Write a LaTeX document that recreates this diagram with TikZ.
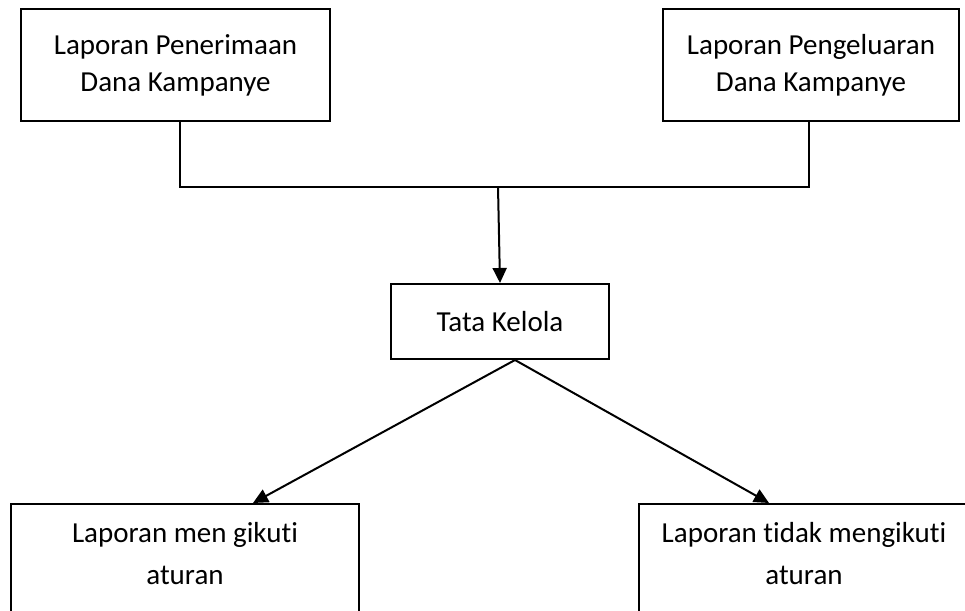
\documentclass[tikz,border=0pt]{standalone}
\usepackage{fontspec}
\setmainfont{Carlito}[Ligatures={NoCommon}]
\usetikzlibrary{arrows.meta}
\begin{document}
\begin{tikzpicture}[x=1pt,y=-1pt,
  box/.style={draw, line width=2pt, inner sep=0pt, align=center, font=\fontsize{29}{37}\selectfont},
  txt/.style={inner sep=0pt, align=center, font=\fontsize{29}{42}\selectfont},
  conn/.style={line width=2pt},
  arr/.style={line width=2pt, -{Triangle[length=15pt,width=14pt]}}]
\useasboundingbox (0,0) rectangle (965,610);
\node[box, minimum width=309, minimum height=112] (b1) at (175.5,65) {Laporan Penerimaan\\Dana Kampanye};
\node[box, minimum width=296, minimum height=112] (b2) at (811,65) {Laporan Pengeluaran\\Dana Kampanye};
\node[box, minimum width=218, minimum height=75] (tk) at (500,321.5) {Tata Kelola};
\node[box, minimum width=348, minimum height=125, anchor=north] (lb) at (185,503) {};
\node[txt] (lt) at (185,554) {Laporan men gikuti\\aturan};
\node[box, minimum width=330, minimum height=125, anchor=north] (rb) at (804,503) {};
\node[txt] (rt) at (804,554) {Laporan tidak mengikuti\\aturan};
\coordinate (j) at (498,187);
\draw[conn] ([xshift=4.5pt]b1.south) |- (j) -| ([xshift=-2pt]b2.south);
\draw[arr] (j) -- (tk.north);
\coordinate (apex) at ([xshift=15pt]tk.south);
\draw[arr] (apex) -- ([xshift=68pt]lb.north);
\draw[arr] (apex) -- ([xshift=-35pt]rb.north);
\end{tikzpicture}
\end{document}
